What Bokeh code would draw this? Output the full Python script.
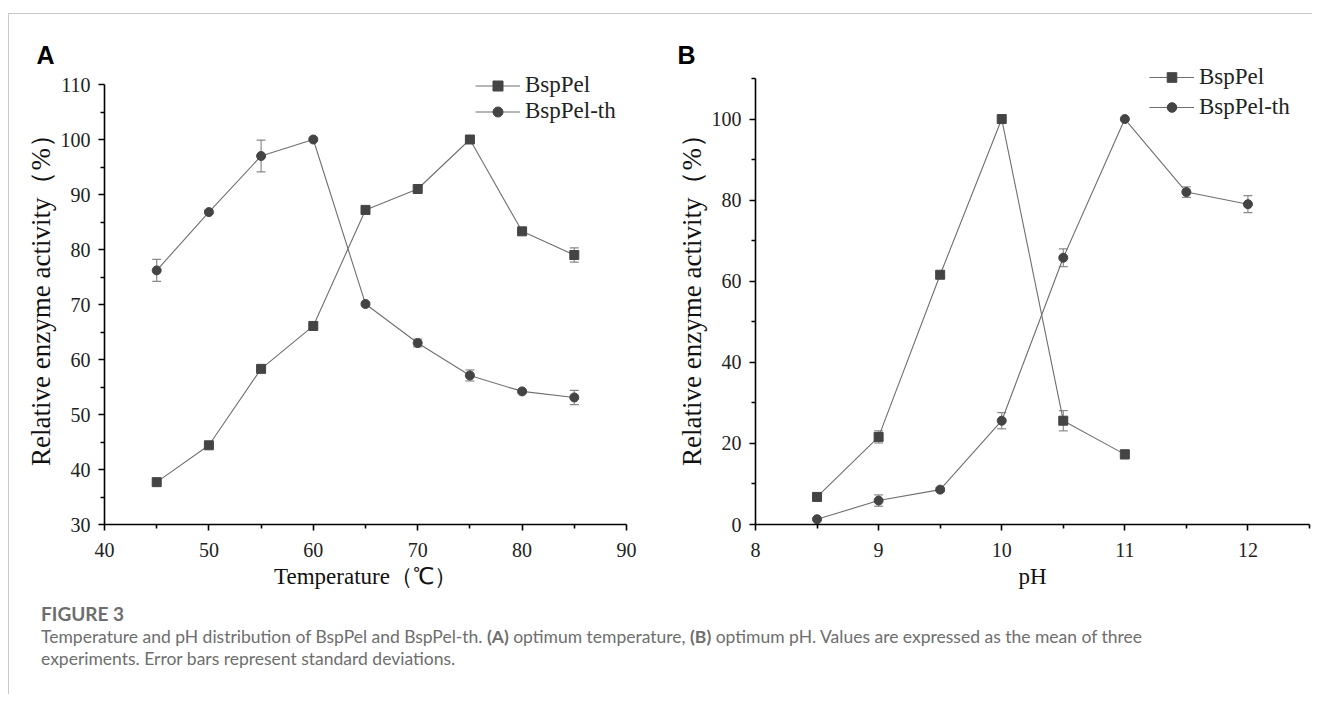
from bokeh.plotting import figure
from bokeh.models import (ColumnDataSource, Whisker, TeeHead, FixedTicker,
                          Legend, LegendItem, Div)
from bokeh.layouts import row, column
from bokeh.embed import file_html
from bokeh.resources import INLINE

# ---------------- data ----------------
temp = [45, 50, 55, 60, 65, 70, 75, 80, 85]
a_bsp = [37.7, 44.4, 58.3, 66.1, 87.2, 91.0, 100.0, 83.3, 79.0]
a_bsp_err = [0.3, 0.3, 0.3, 0.4, 0.6, 0.4, 0.3, 0.5, 1.3]
a_th = [76.2, 86.8, 97.0, 100.0, 70.1, 63.0, 57.1, 54.2, 53.1]
a_th_err = [2.0, 0.3, 2.9, 0.2, 0.3, 0.7, 1.0, 0.3, 1.3]

ph_bsp = [8.5, 9.0, 9.5, 10.0, 10.5, 11.0]
b_bsp = [6.8, 21.6, 61.6, 100.0, 25.6, 17.3]
b_bsp_err = [0.4, 1.5, 0.5, 0.3, 2.5, 1.1]
ph_th = [8.5, 9.0, 9.5, 10.0, 10.5, 11.0, 11.5, 12.0]
b_th = [1.3, 5.9, 8.6, 25.6, 65.8, 100.0, 82.0, 79.0]
b_th_err = [0.3, 1.4, 0.5, 2.0, 2.2, 0.2, 1.3, 2.1]

a_xticks = [40, 50, 60, 70, 80, 90]
a_xminor = [45, 55, 65, 75, 85]
a_yticks = [30, 40, 50, 60, 70, 80, 90, 100, 110]
a_yminor = [35, 45, 55, 65, 75, 85, 95, 105]
b_xticks = [8, 9, 10, 11, 12]
b_xminor = [8.5, 9.5, 10.5, 11.5, 12.5]
b_yticks = [0, 20, 40, 60, 80, 100]
b_yminor = [10, 30, 50, 70, 90, 110]

series_names = ["BspPel", "BspPel-th"]
panel_letters = ["A", "B"]
x_titles = ["Temperature\uff08\u2103\uff09", "pH"]
y_title = "Relative enzyme activity\uff08%\uff09"

SERIF = "Liberation Serif"
LINE_C = "#6f6f6f"
MARK_C = "#444444"
ERR_C = "#8a8a8a"


def style_axis(ax, ticks, minor, label, standoff, label_standoff, label_size):
    ax.ticker = FixedTicker(ticks=ticks, minor_ticks=minor)
    ax.axis_label = label
    ax.axis_line_width = 1.6
    ax.axis_line_color = "black"
    ax.major_tick_line_width = 1.6
    ax.major_tick_line_color = "black"
    ax.minor_tick_line_width = 1.6
    ax.minor_tick_line_color = "black"
    ax.major_tick_out = 6
    ax.major_tick_in = 0
    ax.minor_tick_out = 4
    ax.minor_tick_in = 0
    ax.major_label_text_font = SERIF
    ax.major_label_text_font_size = "20px"
    ax.major_label_text_color = "#222222"
    ax.major_label_standoff = standoff
    ax.axis_label_text_font = SERIF
    ax.axis_label_text_font_size = label_size
    ax.axis_label_text_font_style = "normal"
    ax.axis_label_text_color = "#111111"
    ax.axis_label_standoff = label_standoff


def panel(xs, ys, errs, xr, yr, ybounds, xt, xm, yt, ym, xlabel, letter,
          w, h, mbl, mbr, mbt, mbb, leg_loc, leg_row, leg_spacing, letter_dx,
          letter_standoff):
    p = figure(width=w, height=h, x_range=xr, y_range=yr,
               output_backend="svg", toolbar_location=None,
               min_border_left=mbl, min_border_right=mbr,
               min_border_top=mbt, min_border_bottom=mbb)
    p.grid.visible = False
    p.outline_line_color = None
    p.background_fill_color = "white"
    p.border_fill_color = "white"
    style_axis(p.xaxis[0], xt, xm, xlabel, 12, 4, "23px")
    style_axis(p.yaxis[0], yt, ym, y_title, 8, 2, "27px")
    p.yaxis[0].bounds = ybounds

    p.title.text = letter
    p.title.align = "left"
    p.title.offset = letter_dx
    p.title.standoff = letter_standoff
    p.title.text_font = "Liberation Sans"
    p.title.text_font_style = "bold"
    p.title.text_font_size = "25px"
    p.title.text_color = "black"

    items = []
    markers = ["square", "circle"]
    for k in range(2):
        x, y, e = xs[k], ys[k], errs[k]
        src = ColumnDataSource(dict(x=x, y=y,
                                    lo=[a - b for a, b in zip(y, e)],
                                    hi=[a + b for a, b in zip(y, e)]))
        wk = Whisker(base="x", lower="lo", upper="hi", source=src,
                     line_color=ERR_C, line_width=1.2,
                     upper_head=TeeHead(size=9, line_color=ERR_C, line_width=1.2),
                     lower_head=TeeHead(size=9, line_color=ERR_C, line_width=1.2),
                     level="underlay")
        p.add_layout(wk)
        lr = p.line("x", "y", source=src, line_color=LINE_C, line_width=1.1)
        sr = p.scatter("x", "y", source=src, marker=markers[k], size=9,
                       fill_color=MARK_C, line_color=MARK_C)
        items.append(LegendItem(label=series_names[k], renderers=[lr, sr]))

    leg = Legend(items=items, location=leg_loc, glyph_width=45,
                 glyph_height=leg_row, label_height=leg_row,
                 spacing=leg_spacing,
                 padding=0, margin=0, border_line_alpha=0,
                 background_fill_alpha=0, label_standoff=5,
                 label_text_font=SERIF, label_text_font_size="23px",
                 label_text_color="#222222")
    p.add_layout(leg)
    return p


pA = panel([temp, temp], [a_bsp, a_th], [a_bsp_err, a_th_err],
           (40, 90), (30, 114.0), (30, 110),
           a_xticks, a_xminor, a_yticks, a_yminor,
           x_titles[0], panel_letters[0], 660, 586, 95, 43, 48, 76,
           (371, 400), 25, 0, -68, -13)
pB = panel([ph_bsp, ph_th], [b_bsp, b_th], [b_bsp_err, b_th_err],
           (8, 12.5), (0, 113.95), (0, 110),
           b_xticks, b_xminor, b_yticks, b_yminor,
           x_titles[1], panel_letters[1], 643, 586, 86, 3, 48, 76,
           (394, 404), 24, 4, -78, -13)

caption_html = (
    '<div style="font-family: Lato, \'Open Sans\', sans-serif; color:#6e6e6e; '
    'padding-left:32px; padding-top:2px;">'
    '<div style="font-size:19px; font-weight:700; line-height:24px;">FIGURE 3</div>'
    '<div style="font-size:17.5px; line-height:22px; font-weight:400;">'
    'Temperature and pH distribution of BspPel and BspPel-th. <b>(A)</b> optimum '
    'temperature, <b>(B)</b> optimum pH. Values are expressed as the mean of three<br>'
    'experiments. Error bars represent standard deviations.</div></div>'
)
cap = Div(text=caption_html, width=1300, height=94, margin=0)

layout = column(row(pA, pB), cap,
                styles={"border-top": "1px solid #c8c8c8",
                        "border-left": "1px solid #c8c8c8",
                        "margin-top": "13px",
                        "margin-left": "8px"})

open("out.html", "w").write(file_html(layout, INLINE))
